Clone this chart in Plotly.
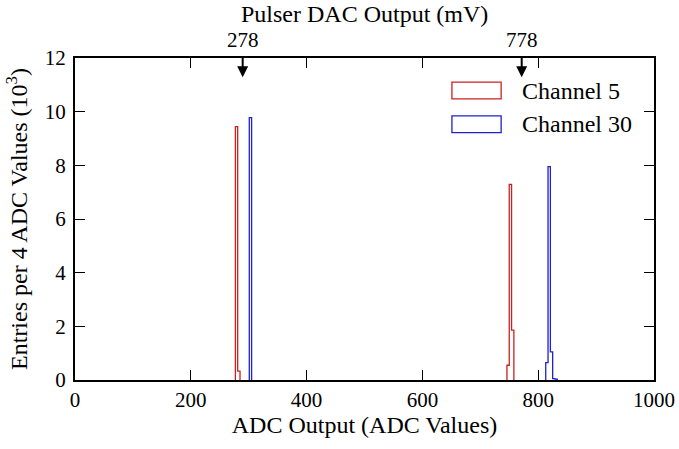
import plotly.graph_objects as go

# ---- data ----
# Channel 5 histogram: bin edges (ADC values) and entries (10^3) per 4 ADC values
ch5_peak1_edges = [277, 281, 285]
ch5_peak1_counts = [9.44, 0.33]
ch5_peak2_edges = [746, 750, 754, 758]
ch5_peak2_counts = [0.55, 7.29, 1.86]

# Channel 30
ch30_peak1_edges = [301, 305]
ch30_peak1_counts = [9.78]
ch30_peak2_edges = [813, 817, 821, 825, 829, 833]
ch30_peak2_counts = [0.65, 7.95, 1.05, 0.05, 0.03]

# Pulser DAC settings (mV) and their marked position on the ADC axis
dac_labels = ["278", "778"]
dac_adc_positions = [289.6, 771.5]

x_ticks = [0, 200, 400, 600, 800, 1000]
y_ticks = [0, 2, 4, 6, 8, 10, 12]

FONT = "Liberation Serif"
RED = "#cc2020"
BLUE = "#2020cc"
TICK_SIZE = 21
TITLE_SIZE = 24


def step_outline(peaks):
    xs, ys = [], []
    for edges, counts in peaks:
        xs.append(edges[0]); ys.append(0)
        for e, c in zip(edges[:-1], counts):
            xs.append(e); ys.append(c)
        xs.append(edges[-1]); ys.append(0)
        xs.append(None); ys.append(None)
    return xs, ys


fig = go.Figure()
x5, y5 = step_outline([(ch5_peak1_edges, ch5_peak1_counts), (ch5_peak2_edges, ch5_peak2_counts)])
x30, y30 = step_outline([(ch30_peak1_edges, ch30_peak1_counts), (ch30_peak2_edges, ch30_peak2_counts)])
fig.add_trace(go.Scatter(x=x5, y=y5, mode="lines", line=dict(color=RED, width=1.3, shape="hv"),
                         name="Channel 5", showlegend=False, connectgaps=False))
fig.add_trace(go.Scatter(x=x30, y=y30, mode="lines", line=dict(color=BLUE, width=1.3, shape="hv"),
                         name="Channel 30", showlegend=False, connectgaps=False))

axis_common = dict(showline=True, linecolor="black", linewidth=2, mirror="ticks",
                   ticks="inside", ticklen=10, tickwidth=1.3, tickcolor="black",
                   showgrid=False, zeroline=False, automargin=False,
                   tickfont=dict(family=FONT, size=TICK_SIZE, color="black"))

fig.update_xaxes(range=[0, 1000], tickvals=x_ticks, ticktext=[str(v) for v in x_ticks],
                 ticklabelstandoff=0,
                 title=dict(text="ADC Output (ADC Values)", font=dict(family=FONT, size=TITLE_SIZE, color="black"), standoff=0),
                 **axis_common)
fig.update_yaxes(range=[0, 12], tickvals=y_ticks, ticktext=[str(v) for v in y_ticks],
                 ticklabelstandoff=3,
                 title=dict(text="Entries per 4 ADC Values (10<sup>3</sup>)", font=dict(family=FONT, size=TITLE_SIZE, color="black"), standoff=10),
                 **axis_common)

annotations = []
for lbl, pos in zip(dac_labels, dac_adc_positions):
    # label above the top axis with an arrow pointing down into the plot
    annotations.append(dict(x=pos, y=11.28, xref="x", yref="y", text=lbl, showarrow=True,
                            ax=0, ay=-37, axref="pixel", ayref="pixel",
                            startstandoff=3, standoff=0,
                            arrowhead=2, arrowsize=1.1, arrowwidth=2, arrowcolor="black",
                            font=dict(family=FONT, size=TICK_SIZE, color="black")))
annotations.append(dict(x=0.5, y=1.138, xref="paper", yref="paper", text="Pulser DAC Output (mV)",
                        showarrow=False, font=dict(family=FONT, size=TITLE_SIZE, color="black"),
                        xanchor="center", yanchor="middle"))

# legend (boxes drawn as outlined rectangles)
shapes = []
legend_items = [("Channel 5", RED, 0.899), ("Channel 30", BLUE, 0.794)]
for name, col, yc in legend_items:
    shapes.append(dict(type="rect", xref="paper", yref="paper", x0=0.651, x1=0.736,
                       y0=yc - 0.026, y1=yc + 0.026, line=dict(color=col, width=1.3), fillcolor="rgba(0,0,0,0)"))
    annotations.append(dict(x=0.769, y=yc, xref="paper", yref="paper", text=name, showarrow=False,
                            font=dict(family=FONT, size=TITLE_SIZE, color="black"), xanchor="left", yanchor="middle"))

fig.update_layout(width=679, height=449, margin=dict(l=75, r=25, t=58, b=69),
                  plot_bgcolor="white", paper_bgcolor="white",
                  annotations=annotations, shapes=shapes, showlegend=False,
                  font=dict(family=FONT, color="black"))

# remove the page's default body margin so the figure fills the window exactly
fig.write_html("out.html", config={"displayModeBar": False},
               post_script="document.body.style.margin='0px';")
